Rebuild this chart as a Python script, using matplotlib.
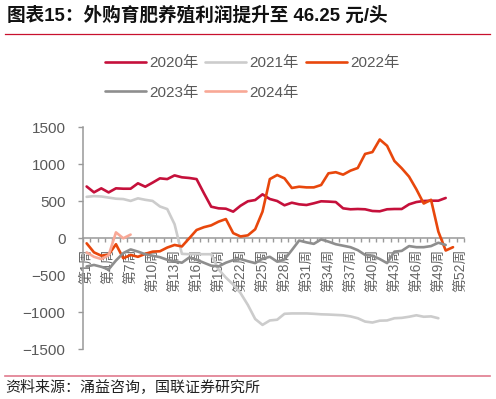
import numpy as np
import matplotlib
matplotlib.use("Agg")
import matplotlib.pyplot as plt

plt.rcParams['font.family'] = ['Liberation Sans', 'Noto Sans CJK SC', 'DejaVu Sans']

# weekly profit of purchased-piglet fattening, yuan/head
weeks = np.arange(1, 53)
tick_weeks = list(range(1, 53, 3))
tick_labels = ["第{}周".format(w) for w in tick_weeks]

y2020 = [700, 621, 675, 620, 675, 670, 670, 743, 697, 752,
         810, 800, 850, 824, 815, 800, 610, 427, 405, 400,
         360, 440, 500, 517, 594, 531, 504, 446, 481, 459,
         450, 473, 500, 496, 490, 405, 392, 396, 392, 369,
         365, 392, 396, 396, 459, 490, 504, 508, 508, 545]
y2021 = [560, 570, 565, 550, 535, 530, 505, 540, 520, 505,
         430, 395, 190, -210, -215, -215, -215, -215, -420, -530,
         -625, -740, -900, -1090, -1170, -1110, -1100, -1020, -1015, -1015,
         -1015, -1020, -1027, -1030, -1035, -1040, -1055, -1080, -1125, -1138,
         -1113, -1110, -1080, -1075, -1060, -1040, -1060, -1055, -1080]
y2022 = [-68, -190, -235, -220, -80, -270, -225, -250, -210, -180,
         -175, -125, -90, -110, 0, 112, 150, 175, 225, 260,
         70, 25, 40, 122, 360, 800, 855, 810, 680, 697,
         688, 688, 720, 878, 893, 860, 914, 950, 1140, 1165,
         1335, 1250, 1045, 946, 833, 662, 470, 520, 90, -165,
         -120]
y2023 = [-380, -360, -385, -420, -300, -200, -150, -180, -215, -235,
         -255, -290, -310, -330, -260, -290, -330, -370, -380, -330,
         -295, -280, -310, -335, -275, -250, -315, -285, -160, -30,
         -55, -75, -15, -45, -80, -100, -120, -160, -225, -235,
         -280, -335, -180, -170, -105, -120, -120, -105, -60, -90]
y2024 = [-190, -250, -280, -230, 80, 0, 50]

series = [
    ("2020年", y2020, "#C5103B"),
    ("2021年", y2021, "#CCCCCC"),
    ("2022年", y2022, "#E8470C"),
    ("2023年", y2023, "#8E8E8E"),
    ("2024年", y2024, "#F8A896"),
]

fig = plt.figure(figsize=(4.96, 3.99), dpi=100)
ax = fig.add_axes([0.1673, 0.1245, 0.7682, 0.5565])

handles = {}
for name, vals, col in series:
    x = weeks[:len(vals)]
    ln, = ax.plot(x, vals, color=col, lw=1.9, solid_capstyle='round', zorder=3)
    handles[name] = ln

ax.set_xlim(0.5, 52.5)
ax.set_ylim(-1500, 1500)
ax.set_yticks(np.arange(-1500, 1501, 500))
ax.tick_params(axis='y', direction='out', length=3.5, width=1, color='#999999',
               labelsize=11, labelcolor='#595959', pad=9)

for s in ['top', 'right']:
    ax.spines[s].set_visible(False)
ax.spines['left'].set_color('#999999')
ax.spines['left'].set_linewidth(1.1)
ax.spines['bottom'].set_position(('data', 0))
ax.spines['bottom'].set_color('#999999')
ax.spines['bottom'].set_linewidth(1.1)

ax.set_xticks(tick_weeks)
ax.set_xticklabels(tick_labels, rotation=90, fontsize=10, color='#666666')
ax.set_xticks(np.arange(0.5, 53, 1), minor=True)
ax.tick_params(axis='x', which='major', length=0, pad=7.5)
ax.tick_params(axis='x', which='minor', direction='out', length=3, width=1, color='#999999')
for lab in ax.get_xticklabels():
    lab.set_va('top')

order = ["2020年", "2023年", "2021年", "2024年", "2022年"]
fig.legend([handles[k] for k in order], order, loc='center', ncol=3,
           bbox_to_anchor=(0.508, 0.8045), frameon=False, fontsize=11,
           labelcolor='#595959', handlelength=2.7, handletextpad=0.2,
           columnspacing=0.45, labelspacing=1.02)

fig.text(0.014, 1 - 15 / 399, "图表15：外购育肥养殖利润提升至 46.25 元/头",
         fontsize=13.4, fontweight='bold', va='center', ha='left', color='#111111')
fig.add_artist(plt.Line2D([5 / 496, 490 / 496], [1 - 34 / 399, 1 - 34 / 399],
                          color='#C8102E', lw=0.9))
fig.add_artist(plt.Line2D([5 / 496, 490 / 496], [1 - 376 / 399, 1 - 376 / 399],
                          color='#E07A8E', lw=1.2))
fig.text(0.01, 1 - 388 / 399, "资料来源：涌益咨询，国联证券研究所",
         fontsize=10.8, va='center', ha='left', color='#222222',
         family=['Noto Sans CJK SC', 'DejaVu Sans'])

fig.savefig("out.png", dpi=100)
